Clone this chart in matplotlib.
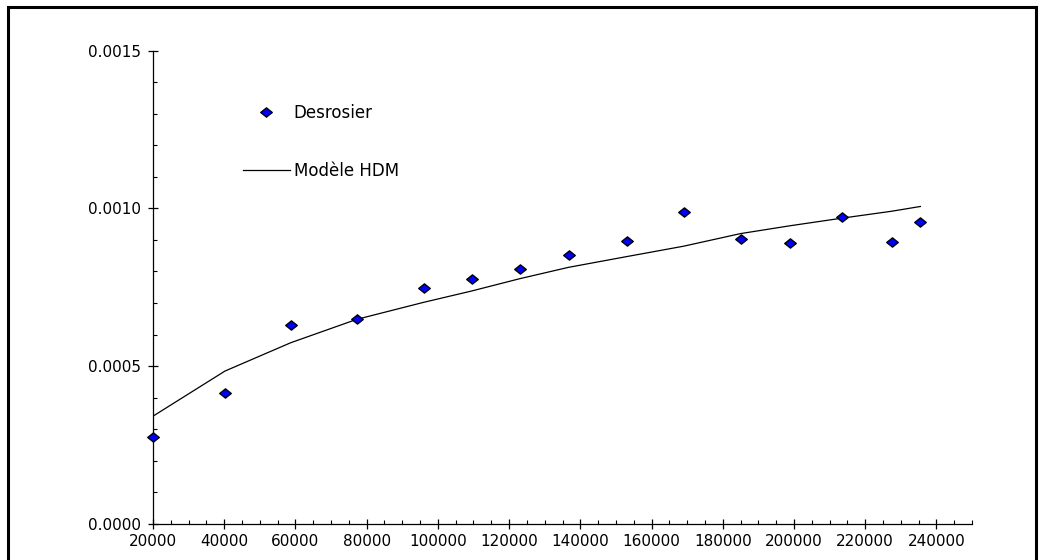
import matplotlib.pyplot as plt
from matplotlib.path import Path
from matplotlib.patches import Rectangle
from matplotlib.ticker import MultipleLocator, FormatStrFormatter

# measured points (Desrosier) and HDM model curve
x_meas = [20000, 40200, 58700, 77200, 96000, 109500, 123000, 136700,
          153000, 169000, 185000, 199000, 213500, 227500, 235500]
y_meas = [0.000275, 0.000414, 0.000629, 0.000648, 0.000746, 0.000777,
          0.000807, 0.000851, 0.000895, 0.000987, 0.000902, 0.000889,
          0.000973, 0.000892, 0.000958]
y_model = [0.000341, 0.000484, 0.000574, 0.000648, 0.000702, 0.000738,
           0.000777, 0.000813, 0.000847, 0.000880, 0.000920, 0.000945,
           0.000969, 0.000991, 0.001006]

plt.rcParams['font.family'] = 'DejaVu Sans'

# slightly flattened diamond
diamond = Path([(-1, 0), (0, 0.8), (1, 0), (0, -0.8), (-1, 0)],
               [Path.MOVETO, Path.LINETO, Path.LINETO, Path.LINETO, Path.CLOSEPOLY])

fig = plt.figure(figsize=(10.44, 5.6), dpi=100)
ax = fig.add_axes([153 / 1044, 36.3 / 560, 819 / 1044, 473 / 560])

ax.plot(x_meas, y_meas, linestyle='none', marker=diamond, markersize=8.3,
        markerfacecolor='#0000ff', markeredgecolor='black', markeredgewidth=1.0,
        label='Desrosier', clip_on=False, zorder=3)
ax.plot(x_meas, y_model, color='black', linewidth=0.9, label='Modèle HDM')

ax.set_xlim(20000, 250000)
ax.set_ylim(0, 0.0015)
ax.xaxis.set_major_locator(MultipleLocator(20000))
ax.xaxis.set_minor_locator(MultipleLocator(5000))
ax.yaxis.set_major_locator(MultipleLocator(0.0005))
ax.yaxis.set_minor_locator(MultipleLocator(0.0001))
ax.yaxis.set_major_formatter(FormatStrFormatter('%.4f'))
ax.xaxis.set_major_formatter(FormatStrFormatter('%d'))

for side in ['top', 'right']:
    ax.spines[side].set_visible(False)
for side in ['left', 'bottom']:
    ax.spines[side].set_linewidth(0.9)

ax.tick_params(axis='both', which='major', direction='inout', length=7,
               width=0.9, labelsize=11)
ax.tick_params(axis='both', which='minor', direction='in', length=3, width=0.8)
ax.tick_params(axis='y', which='major', pad=5)
ax.tick_params(axis='x', which='major', pad=4)

ax.legend(loc='upper left', bbox_to_anchor=(243 / 1044, 1 - 104 / 560),
          bbox_transform=fig.transFigure, frameon=False, fontsize=12,
          borderpad=0, borderaxespad=0, handlelength=2.8, handletextpad=0.25,
          labelspacing=2.4)

# outer frame
fig.patches.append(Rectangle((8 / 1044, -0.02), 1028 / 1044, 1.02 - 7 / 560,
                             transform=fig.transFigure, fill=False,
                             edgecolor='black', linewidth=2.2))

fig.savefig('out.png', dpi=100)
